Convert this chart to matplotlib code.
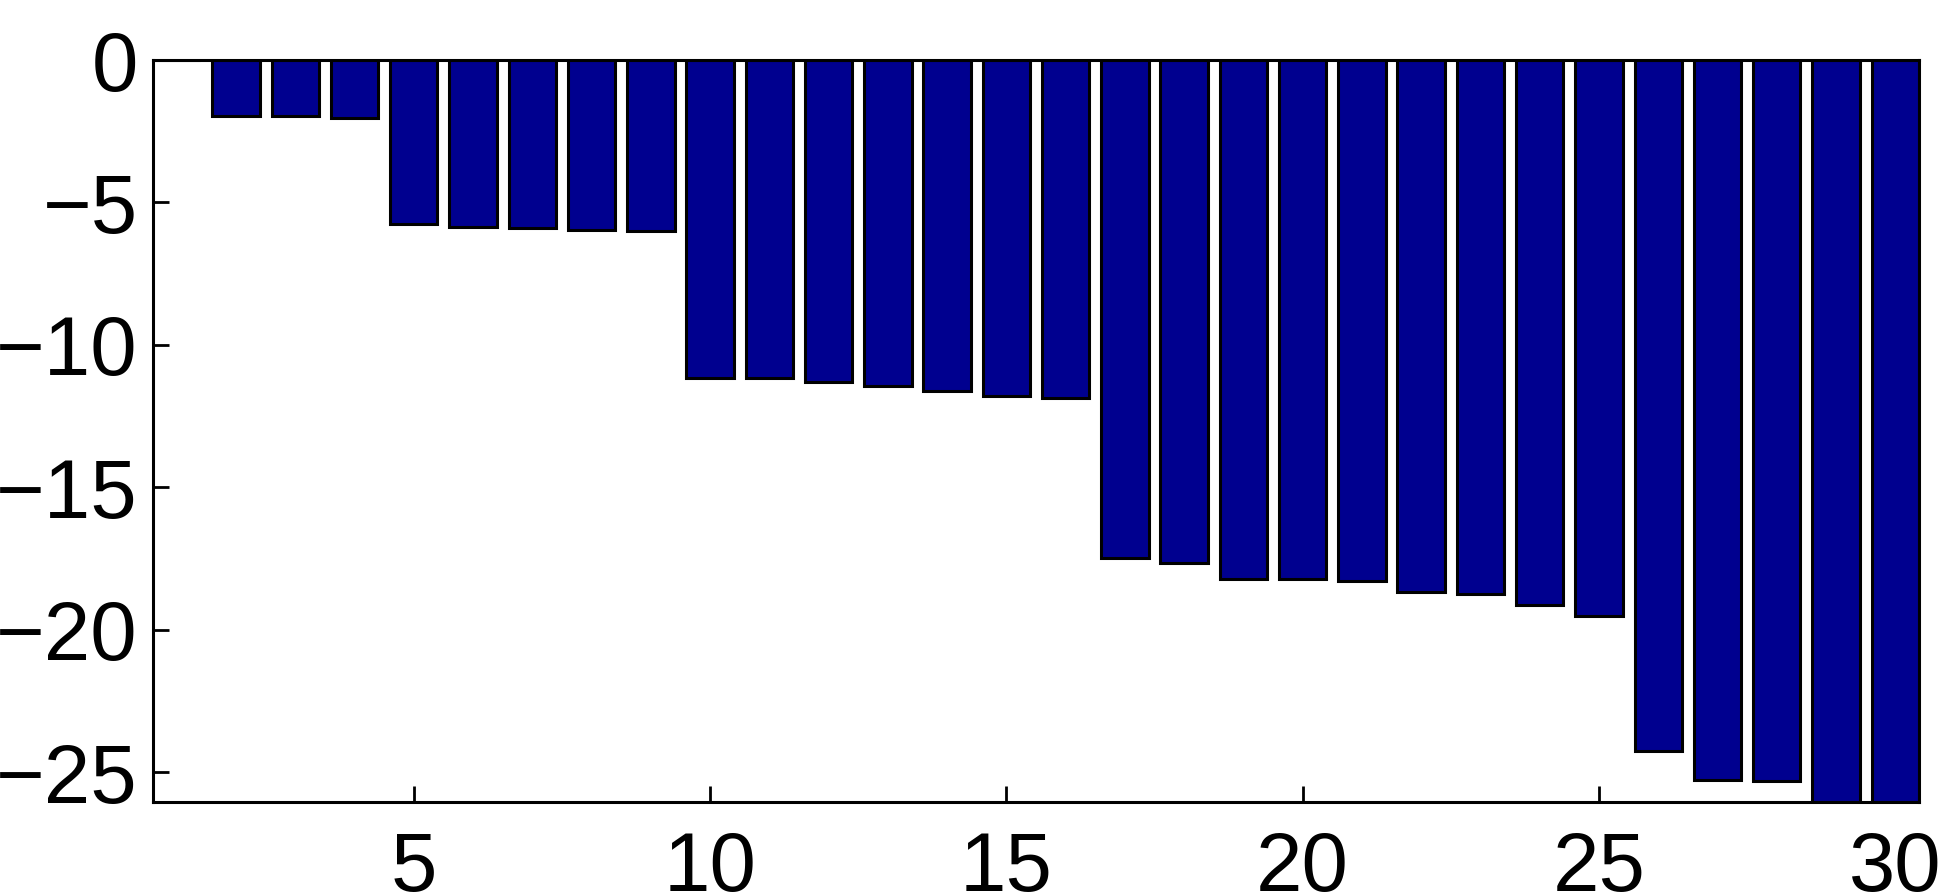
import matplotlib
matplotlib.use("Agg")
import matplotlib.pyplot as plt
import numpy as np

plt.rcParams['font.family'] = ['Liberation Sans', 'DejaVu Sans']

positions = list(range(1, 31))
values = [0.0, -1.96, -1.96, -2.03, -5.77, -5.87, -5.91, -5.97, -6.01,
          -11.17, -11.17, -11.31, -11.45, -11.62, -11.80, -11.87,
          -17.48, -17.66, -18.22, -18.22, -18.29, -18.67, -18.74, -19.13, -19.52,
          -24.25, -25.26, -25.30, -27.0, -27.5]
xticks = [5, 10, 15, 20, 25, 30]
yticks = [0, -5, -10, -15, -20, -25]

fig = plt.figure(figsize=(19.54, 8.92), dpi=100)
ax = fig.add_axes([153/1954, 1 - 802/892, (1919-153)/1954, (802-60)/892])

ax.bar(positions, values, width=0.8, color='#00008F', edgecolor='black', linewidth=2.2)

ax.set_xlim(0.6, 30.4)
ax.set_ylim(-26.04, 0)
ax.set_xticks(xticks)
ax.set_yticks(yticks)
ax.set_axisbelow(True)
ax.tick_params(direction='in', length=11.5, width=2.0, labelsize=60)
ax.tick_params(axis='x', pad=20)
ax.tick_params(axis='y', pad=11)
for s in ax.spines.values():
    s.set_linewidth(2.2)

fig.savefig('out.png', dpi=100)
